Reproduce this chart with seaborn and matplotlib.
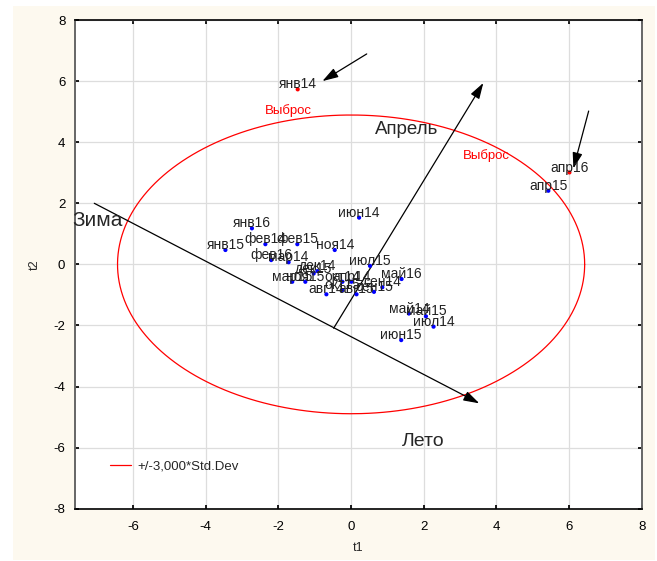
import numpy as np
import pandas as pd
import matplotlib
matplotlib.use("Agg")
import matplotlib.pyplot as plt
from matplotlib.patches import Rectangle
import seaborn as sns

# scores of the months on the first two components
months = ["янв14", "апр16", "апр15", "янв16", "янв15", "фев14", "фев15", "ноя14",
          "фев16", "мар14", "дек14", "дек15", "мар15", "ноя15", "авг14", "окт14",
          "апр14", "окт15", "авг15", "сен15", "сен14", "июл15", "май16", "июн14",
          "май14", "май15", "июл14", "июн15"]
t1 = [-1.47, 6.01, 5.43, -2.73, -3.46, -2.36, -1.48, -0.45,
      -2.20, -1.72, -0.93, -1.03, -1.62, -1.26, -0.68, -0.24,
      0.01, -0.24, 0.15, 0.63, 0.86, 0.52, 1.39, 0.22,
      1.59, 2.06, 2.27, 1.38]
t2 = [5.73, 3.01, 2.41, 1.18, 0.47, 0.66, 0.66, 0.47,
      0.14, 0.07, -0.22, -0.30, -0.57, -0.57, -0.98, -0.57,
      -0.57, -0.84, -0.98, -0.90, -0.75, -0.05, -0.48, 1.53,
      -1.61, -1.70, -2.04, -2.48]
outliers = ["янв14", "апр16"]

# +/-3 std.dev ellipse
ell_cx, ell_cy = 0.0, 0.0
ell_a, ell_b = 6.43, 4.89

df = pd.DataFrame({"t1": t1, "t2": t2, "month": months})
df["kind"] = np.where(df["month"].isin(outliers), "out", "in")

sns.set_theme(style="whitegrid")
plt.rcParams["font.family"] = ["Liberation Sans", "DejaVu Sans"]
plt.rcParams["axes.unicode_minus"] = False

fig = plt.figure(figsize=(6.57, 5.61), dpi=100)
fig.patch.set_facecolor("white")
# cream panel behind the plot
fig.patches.append(Rectangle((13 / 657, 1 / 561), 642 / 657, 554 / 561,
                             transform=fig.transFigure, facecolor="#fdf9ef",
                             edgecolor="none", zorder=-10))
ax = fig.add_axes([0.1142, 0.0932, 0.8625, 0.8711])
ax.set_facecolor("white")

# ellipse
th = np.linspace(0, 2 * np.pi, 400)
ax.plot(ell_cx + ell_a * np.cos(th), ell_cy + ell_b * np.sin(th),
        color="red", lw=0.9, label="+/-3,000*Std.Dev", zorder=2)

# direction arrows
def arrow(x0, y0, x1, y1):
    ax.annotate("", xy=(x1, y1), xytext=(x0, y0),
                arrowprops=dict(arrowstyle="-|>,head_width=0.25,head_length=0.8",
                                color="black", lw=0.9, shrinkA=0, shrinkB=0),
                zorder=3)

arrow(-7.07, 2.0, 3.53, -4.55)     # Зима -> Лето
arrow(-0.48, -2.09, 3.64, 5.94)    # Апрель
arrow(0.43, 6.89, -0.79, 6.0)      # outlier янв14
arrow(6.54, 5.02, 6.12, 3.14)      # outlier апр16

sns.scatterplot(data=df, x="t1", y="t2", hue="kind",
                palette={"in": "blue", "out": "red"}, s=9, linewidth=0,
                legend=False, ax=ax, zorder=4)

for m, x, y in zip(months, t1, t2):
    ax.annotate(m, (x, y), xytext=(0, 3.5), textcoords="offset points",
                ha="center", va="center", fontsize=10, color="#222222", zorder=5)

ax.text(-7.68, 1.45, "Зима", fontsize=15, ha="left", va="center", clip_on=False)
ax.text(1.52, 4.42, "Апрель", fontsize=13.5, ha="center", va="center")
ax.text(1.99, -5.81, "Лето", fontsize=14, ha="center", va="center")
ax.text(-1.73, 5.03, "Выброс", fontsize=9.5, color="red", ha="center", va="center")
ax.text(3.73, 3.55, "Выброс", fontsize=9.5, color="red", ha="center", va="center")

ax.set_xlim(-7.6, 8)
ax.set_ylim(-8, 8)
ax.set_xticks(np.arange(-6, 9, 2))
ax.set_yticks(np.arange(-8, 9, 2))
ax.grid(True, color="#dddddd", lw=0.9)
ax.tick_params(direction="in", length=3, labelsize=9.5, colors="black",
               right=True, top=True, left=True, bottom=True)
ax.tick_params(axis="x", pad=9)
ax.tick_params(axis="y", pad=7)
for side in ["top", "bottom"]:
    ax.spines[side].set_color("black")
    ax.spines[side].set_linewidth(1.2)
for side in ["left", "right"]:
    ax.spines[side].set_color("#666666")
    ax.spines[side].set_linewidth(1.4)

ax.set_xlabel("t1", fontsize=9, labelpad=6)
ax.set_ylabel("t2", fontsize=9, labelpad=9)

ax.legend(loc="center left", bbox_to_anchor=(0.05, 0.087), frameon=False,
          fontsize=9.5, handlelength=1.6, handletextpad=0.5, borderpad=0)

fig.savefig("out.png", dpi=100)
